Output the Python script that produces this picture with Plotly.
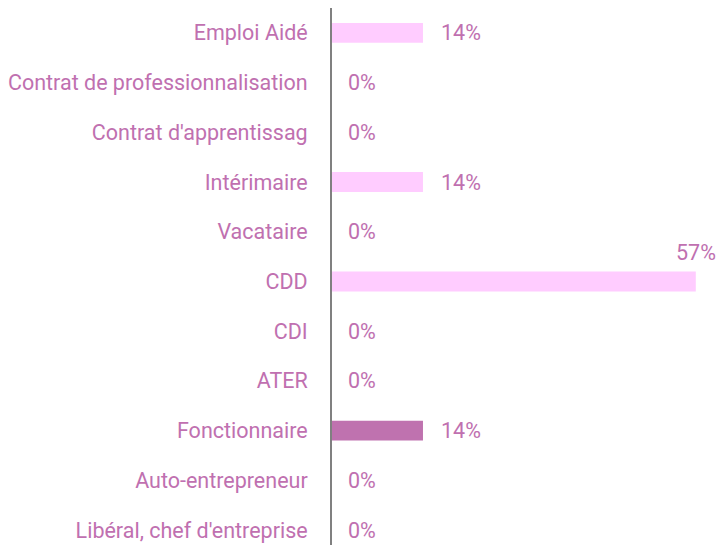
import plotly.graph_objects as go

categories = ["Emploi Aidé", "Contrat de professionnalisation", "Contrat d'apprentissag",
              "Intérimaire", "Vacataire", "CDD", "CDI", "ATER", "Fonctionnaire",
              "Auto-entrepreneur", "Libéral, chef d'entreprise"]
values = [14.29, 0, 0, 14.29, 0, 57.14, 0, 0, 14.29, 0, 0]
labels = ["14%", "0%", "0%", "14%", "0%", "57%", "0%", "0%", "14%", "0%", "0%"]
highlight = "Fonctionnaire"

TEXT = "#c070b0"
LIGHT = "#ffccff"
DARK = "#bf72af"
FONT = "Roboto, Liberation Sans, sans-serif"
FS = 21.5

colors = [DARK if c == highlight else LIGHT for c in categories]

fig = go.Figure(go.Bar(
    x=values, y=categories, orientation="h",
    marker=dict(color=colors, line=dict(width=0)),
    width=0.4, hoverinfo="skip",
))

vmax = max(values)
for c, v, t in zip(categories, values, labels):
    if v == vmax:
        fig.add_annotation(x=v, y=c, text=t, showarrow=False, xanchor="right",
                           yanchor="middle", xshift=22, yshift=29,
                           font=dict(family=FONT, size=FS, color=TEXT))
    else:
        fig.add_annotation(x=v, y=c, text=t, showarrow=False, xanchor="left",
                           yanchor="middle", xshift=14 if v == 0 else 16,
                           font=dict(family=FONT, size=FS, color=TEXT))

fig.update_layout(
    width=721, height=545,
    margin=dict(l=332, r=0, t=8, b=0),
    paper_bgcolor="white", plot_bgcolor="white",
    showlegend=False,
    font=dict(family=FONT, size=FS, color=TEXT),
    xaxis=dict(range=[0, 61.1], visible=False, fixedrange=True, automargin=False),
    yaxis=dict(type="category", categoryorder="array", categoryarray=categories,
               range=[10.3, -0.5], showgrid=False, zeroline=False, automargin=False,
               fixedrange=True,
               showline=True, linecolor="#808080", linewidth=2,
               ticks="", ticklabelstandoff=18,
               tickfont=dict(family=FONT, size=FS, color=TEXT)),
)

fig.write_html(
    "out.html",
    config={"displayModeBar": False, "staticPlot": True},
    post_script="document.body.style.margin='0';document.body.style.overflow='hidden';",
)
